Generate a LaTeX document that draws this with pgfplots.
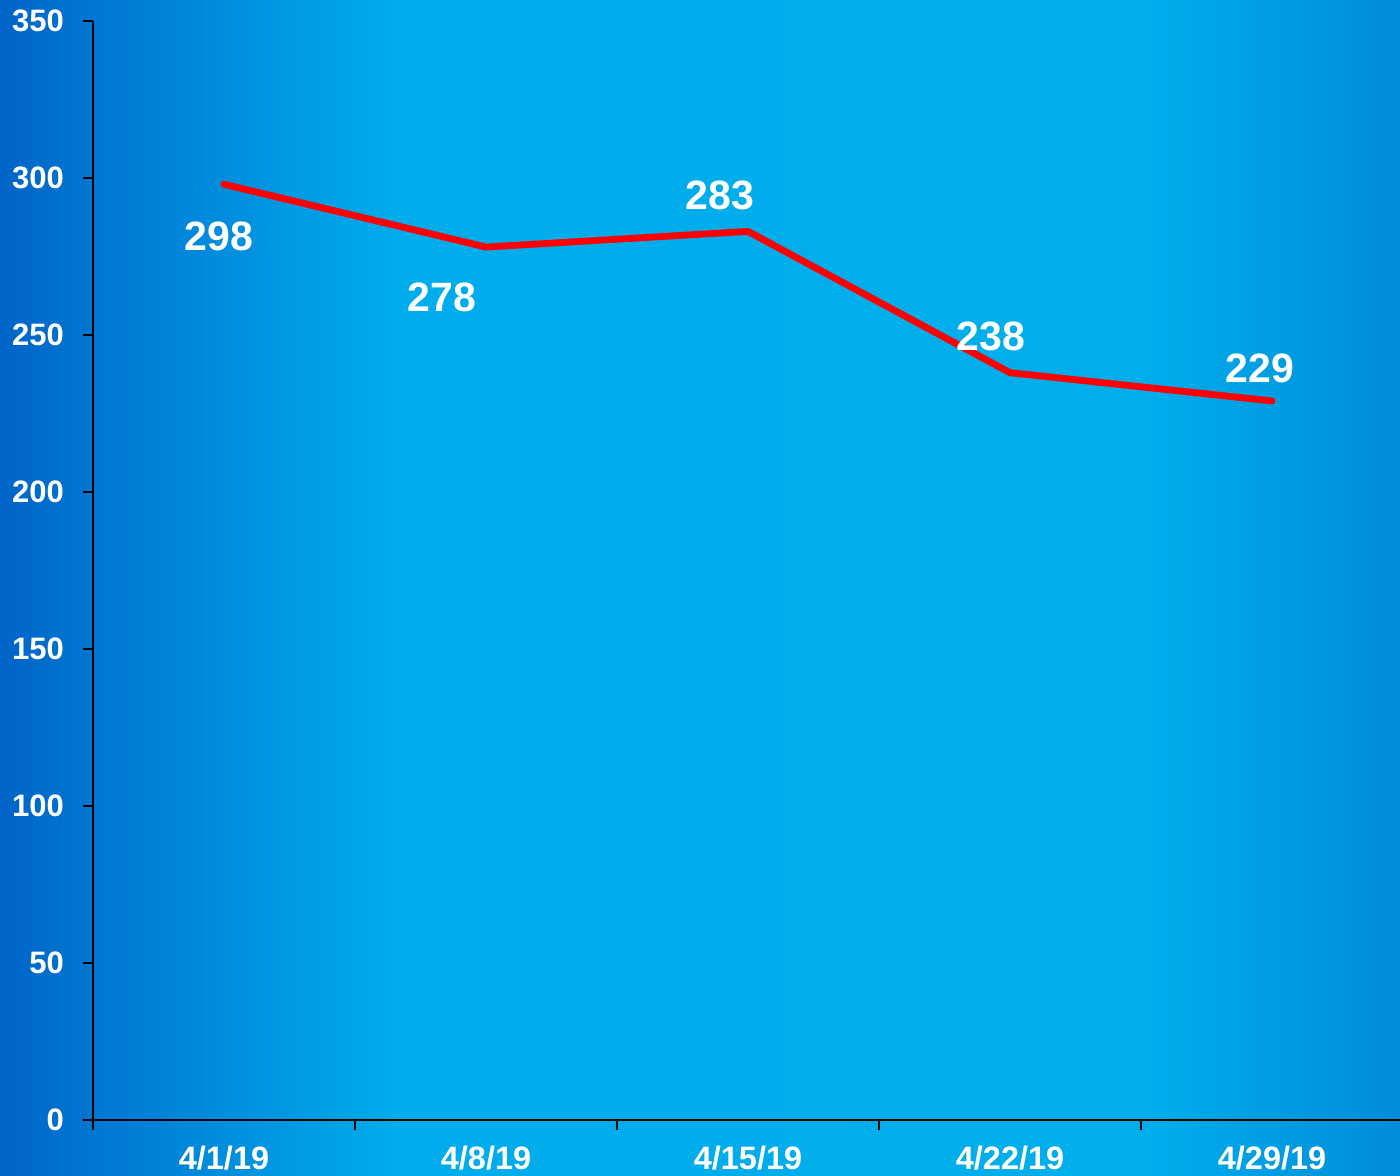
\documentclass[border=0pt]{standalone}
\usepackage{pgfplots}
\pgfplotsset{compat=1.18}
\usepackage{fontspec}
\setmainfont{Liberation Sans}
\definecolor{bgA}{HTML}{0064C8}
\definecolor{bgB}{HTML}{0078D2}
\definecolor{bgC}{HTML}{00ADEC}
\definecolor{bgD}{HTML}{00AEEC}
\definecolor{bgE}{HTML}{008CD8}
\pgfdeclarehorizontalshading{bgshade}{100bp}{color(0bp)=(bgA); color(25bp)=(bgA); color(28.6bp)=(bgB); color(39.3bp)=(bgC); color(66bp)=(bgD); color(75bp)=(bgE); color(100bp)=(bgE)}
\begin{document}
\begin{tikzpicture}
\shade[shading=bgshade] (0,0) rectangle (700pt,587.5pt);
\useasboundingbox (0,0) rectangle (700pt,587.5pt);
\begin{axis}[
  at={(46.5pt,27.5pt)}, anchor=south west,
  scale only axis, width=655pt, height=549.5pt,
  xmin=-0.5, xmax=4.5, ymin=0, ymax=350,
  axis x line*=bottom, axis y line*=left,
  axis line style={-, black, line width=0.75pt},
  xtick={0,1,2,3,4},
  xticklabels={4/1/19,4/8/19,4/15/19,4/22/19,4/29/19},
  minor xtick={-0.5,0.5,1.5,2.5,3.5},
  ytick={0,50,...,350},
  tick align=outside,
  major x tick style={draw=none},
  minor tick length=5pt, major tick length=5pt,
  tick style={black, line width=0.75pt},
  /pgf/number format/assume math mode=true,
  ticklabel style={text=white},
  yticklabel style={font=\fontsize{15.5}{18}\selectfont\bfseries, xshift=-6pt},
  xticklabel style={font=\fontsize{16.2}{19}\selectfont\bfseries, yshift=-4.5pt},
  clip=false,
]
\addplot[red, line width=3.4pt, line cap=round, line join=round] coordinates {(0,298) (1,278) (2,283) (3,238) (4,229)};
\begin{scope}[every node/.style={text=white, font=\fontsize{20.5}{24}\selectfont\bfseries, inner sep=0pt}]
\node at (axis cs:-0.019,281.4) {298};
\node at (axis cs:0.832,262.1) {278};
\node at (axis cs:1.893,294.3) {283};
\node at (axis cs:2.927,249.7) {238};
\node at (axis cs:3.954,239.5) {229};
\end{scope}
\end{axis}
\end{tikzpicture}
\end{document}
